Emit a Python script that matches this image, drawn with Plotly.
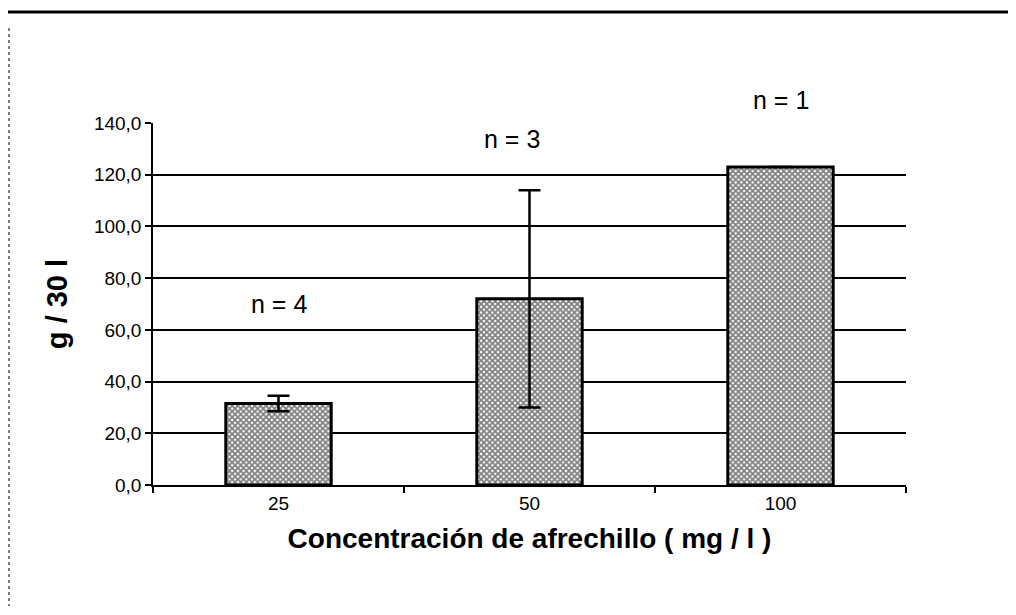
import plotly.graph_objects as go

categories = ["25", "50", "100"]
values = [31.5, 72.0, 123.0]
errors = [3.0, 42.0, 0.0]
n_labels = ["n = 4", "n = 3", "n = 1"]
n_label_x = [0.0, 0.93, 2.0]
n_label_y = [70, 134, 149]
y_ticks = [0, 20, 40, 60, 80, 100, 120, 140]
y_tick_text = ["0,0", "20,0", "40,0", "60,0", "80,0", "100,0", "120,0", "140,0"]
y_range = [0, 140]

font_family = "Liberation Sans, Arial, sans-serif"

# figure is placed inside the page body (8 px offset), so use 1008 x 607
W, H = 1008, 607
L, R, T, B = 145, 110, 115, 130

fig = go.Figure()
fig.add_trace(go.Bar(
    x=categories, y=values,
    marker=dict(
        color="#ffffff",
        line=dict(color="#000000", width=3),
        pattern=dict(shape="x", fgcolor="#000000", bgcolor="#ffffff", size=4, solidity=0.7),
    ),
    error_y=dict(type="data", array=errors, visible=True, color="#000000", thickness=2.5, width=11),
    showlegend=False,
))

for lab, xx, yy in zip(n_labels, n_label_x, n_label_y):
    fig.add_annotation(x=xx, y=(yy - y_range[0]) / (y_range[1] - y_range[0]),
                       xref="x", yref="paper", yanchor="middle", xanchor="center",
                       text=lab, showarrow=False,
                       font=dict(family=font_family, size=25, color="#000000"))

fig.update_layout(
    width=W, height=H,
    margin=dict(l=L, r=R, t=T, b=B),
    paper_bgcolor="#ffffff", plot_bgcolor="#ffffff",
    bargap=0.58,
    font=dict(family=font_family, color="#000000"),
    xaxis=dict(
        type="category", range=[-0.5, 2.5],
        showline=True, linecolor="#000000", linewidth=2,
        ticks="outside", tickson="boundaries", ticklen=6, tickcolor="#000000", tickwidth=1.5,
        tickfont=dict(size=19, family=font_family),
        title=dict(text="<b>Concentración de afrechillo ( mg / l )</b>",
                   font=dict(size=28, family=font_family), standoff=16),
        showgrid=False,
    ),
    yaxis=dict(
        range=y_range, tickvals=y_ticks, ticktext=y_tick_text,
        showline=True, linecolor="#000000", linewidth=1.5,
        ticks="outside", ticklen=6, tickcolor="#000000", tickwidth=1.5,
        tickfont=dict(size=19, family=font_family),
        showgrid=True, gridcolor="#000000", gridwidth=2,
        zeroline=False,
        title=dict(text="<b>g / 30 l</b>", font=dict(size=29, family=font_family), standoff=18),
    ),
)

pw = W - L - R
ph = H - T - B
def px_to_paper_x(px):
    return (px - L) / pw
def px_to_paper_y(py):
    return (H - B - py) / ph

# scanned page frame: thick top rule and dotted left edge
fig.add_shape(type="line", xref="paper", yref="paper",
              x0=px_to_paper_x(-10), x1=px_to_paper_x(W + 10),
              y0=px_to_paper_y(4), y1=px_to_paper_y(4),
              line=dict(color="#000000", width=3))
fig.add_shape(type="line", xref="paper", yref="paper",
              x0=px_to_paper_x(1), x1=px_to_paper_x(1),
              y0=px_to_paper_y(20), y1=px_to_paper_y(598),
              line=dict(color="#000000", width=1, dash="dot"))

fig.write_html("out.html")
